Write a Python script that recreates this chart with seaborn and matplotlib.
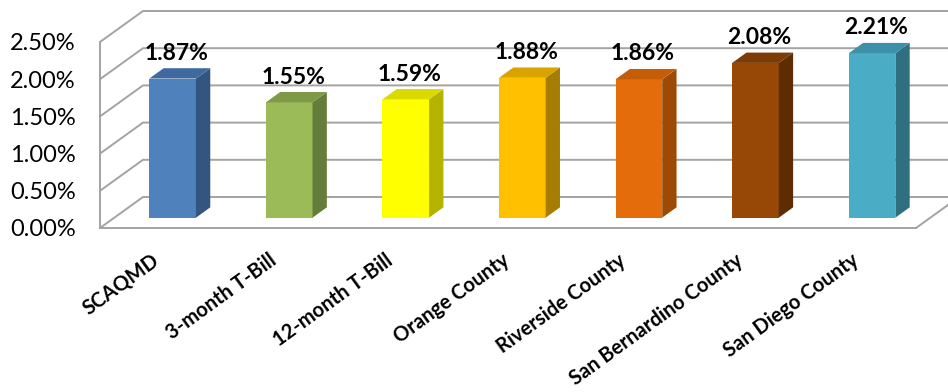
import matplotlib
matplotlib.use("Agg")
import matplotlib.pyplot as plt
import seaborn as sns
import pandas as pd
from matplotlib.patches import Polygon

categories = ["SCAQMD", "3-month T-Bill", "12-month T-Bill", "Orange County",
              "Riverside County", "San Bernardino County", "San Diego County"]
values = [1.87, 1.55, 1.59, 1.88, 1.86, 2.08, 2.21]
value_labels = ["1.87%", "1.55%", "1.59%", "1.88%", "1.86%", "2.08%", "2.21%"]
front_colors = ["#4F81BD", "#9BBB59", "#FFFF00", "#FFC000", "#E46C0A", "#974706", "#4BACC6"]
top_colors = ["#3F6A9F", "#7F9A47", "#DADA00", "#D9A300", "#C45C08", "#7D3B05", "#3D90A8"]
side_colors = ["#34557F", "#657D3A", "#B3B300", "#A67D00", "#9E4A06", "#5E2C03", "#2F6F80"]
yticks = [0.0, 0.5, 1.0, 1.5, 2.0, 2.5]
ytick_labels = ["0.00%", "0.50%", "1.00%", "1.50%", "2.00%", "2.50%"]

sns.set_style("white")
plt.rcParams["font.family"] = ["Lato", "DejaVu Sans"]

W, H, DPI = 948, 392, 100
fig = plt.figure(figsize=(W / DPI, H / DPI), dpi=DPI)
# front plane of the 3D box
ax = fig.add_axes([100 / W, (H - 228) / H, 816 / W, 186 / H])
ax.set_xlim(-0.5, len(categories) - 0.5)
ax.set_ylim(0, 2.5)

sx = len(categories) / 816.0
sy = 2.5 / 186.0
DX, DY = 43 * sx, 31 * sy  # depth vector in data units

grid_col = "#a3a3a3"
lw = 1.4
n = len(categories)
# walls / gridlines
for v in yticks:
    ax.plot([-0.5, -0.5 + DX, n - 0.5 + DX], [v, v + DY, v + DY],
            color=grid_col, lw=lw, clip_on=False, zorder=0.5, solid_capstyle="butt")
ax.plot([n - 0.5, n - 0.5 + DX], [0, DY], color=grid_col, lw=lw, clip_on=False, zorder=0.5)

df = pd.DataFrame({"cat": categories, "val": values})
sns.barplot(data=df, x="cat", y="val", hue="cat", palette=front_colors, width=0.40,
            saturation=1, legend=False, ax=ax, zorder=3)
ax.set_xlim(-0.5, n - 0.5)
ax.set_ylim(0, 2.5)

for i, p in enumerate(ax.patches[:n]):
    p.set_x(p.get_x() + DX / 3)
    p.set_y(DY / 3)
    p.set_clip_on(False)
    p.set_edgecolor("none")
    xl = p.get_x()
    xr = xl + p.get_width()
    y0 = DY / 3
    y1 = y0 + p.get_height()
    side = Polygon([(xr, y0), (xr, y1), (xr + DX / 3, y1 + DY / 3), (xr + DX / 3, y0 + DY / 3)],
                   closed=True, facecolor=side_colors[i], edgecolor="none", zorder=3, clip_on=False)
    top = Polygon([(xl, y1), (xr, y1), (xr + DX / 3, y1 + DY / 3), (xl + DX / 3, y1 + DY / 3)],
                  closed=True, facecolor=top_colors[i], edgecolor="none", zorder=3, clip_on=False)
    ax.add_patch(side)
    ax.add_patch(top)
    ax.text(i + DX / 3 + 4 * sx, values[i] + 2 * DY / 3 + 15 * sy, value_labels[i],
            ha="center", va="center", fontsize=16.5, fontweight="bold", color="black",
            zorder=5, clip_on=False)

for s in ["top", "right"]:
    ax.spines[s].set_visible(False)
for s in ["left", "bottom"]:
    ax.spines[s].set_color(grid_col)
    ax.spines[s].set_linewidth(lw)

ax.set_yticks(yticks)
ax.set_yticklabels(ytick_labels)
ax.tick_params(axis="y", which="major", direction="out", length=3.6, width=lw,
               color=grid_col, pad=14, labelsize=17, labelcolor="black")

bounds = [i - 0.5 for i in range(n + 1)]
ax.set_xticks(bounds)
ax.set_xticklabels([""] * len(bounds))
ax.tick_params(axis="x", which="major", direction="out", length=3.6, width=lw, color=grid_col)
ax.set_xticks([i + 5 * sx for i in range(n)], minor=True)
ax.set_xticklabels(categories, minor=True, rotation=36, ha="right",
                   fontsize=14.5, fontweight="bold")
ax.tick_params(axis="x", which="minor", length=0, pad=16, labelcolor="black")
ax.set_xlabel("")
ax.set_ylabel("")
ax.grid(False)

fig.savefig("out.png", dpi=DPI)
